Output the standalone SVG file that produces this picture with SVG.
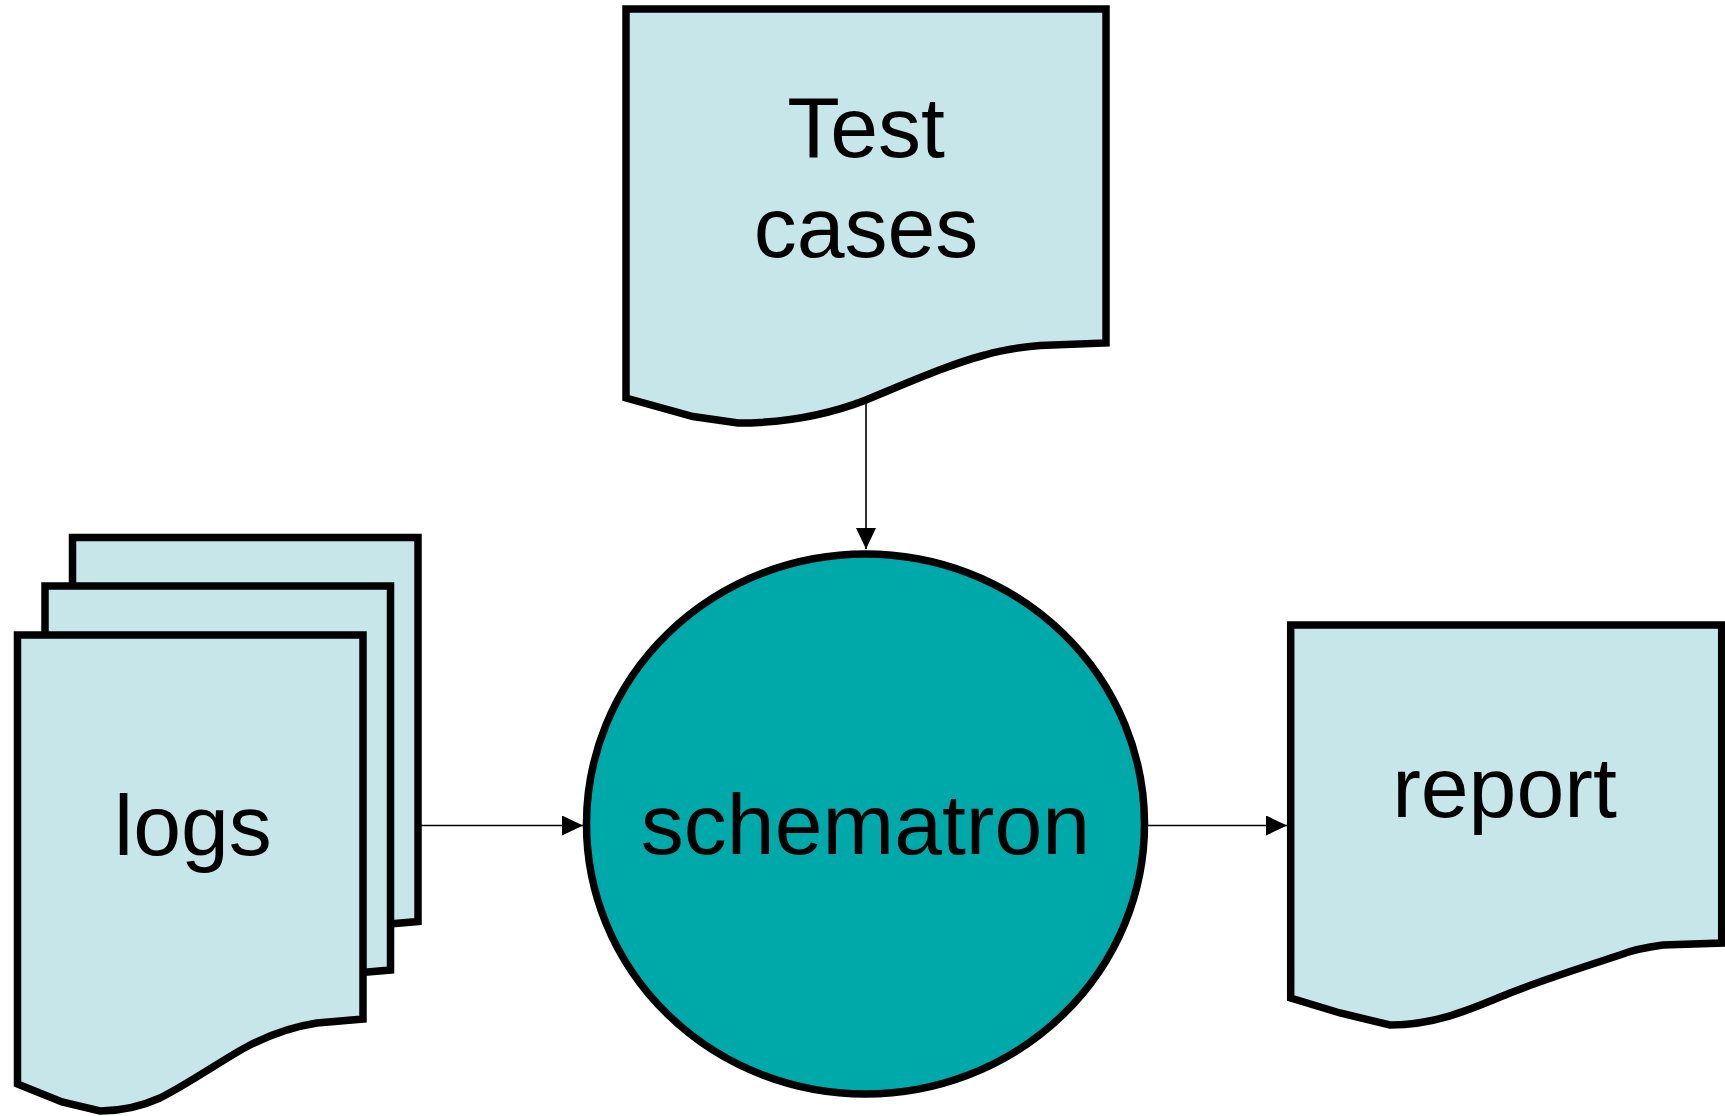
<svg xmlns="http://www.w3.org/2000/svg" xmlns:xlink="http://www.w3.org/1999/xlink" width="1725" height="1116" viewBox="0 0 1725 1116">
  <style>
    .doc { fill: #C6E6E9; stroke: #000; stroke-width: 7.5; stroke-linejoin: miter; }
    .proc { fill: #00A9A9; stroke: #000; stroke-width: 7.5; }
    .lbl { font-family: "Liberation Sans", Arial, sans-serif; font-size: 86px; fill: #000; text-anchor: middle; }
    .conn { stroke: #000; stroke-width: 1.6; fill: none; }
  </style>
  <defs>
    <marker id="arrow" markerUnits="userSpaceOnUse" markerWidth="22" markerHeight="22" refX="21" refY="10" orient="auto">
      <path d="M0,0 L21,10 L0,20 Z" fill="#000"/>
    </marker>
    <path id="logdoc" d="M17.5,635 H363 V1019 L317,1023 C290,1027 270,1035 250,1045 C225,1058 190,1083 160,1098 C140,1107 120,1111 100,1111 L62,1102 L17.5,1084 Z"/>
  </defs>

  <g id="connectors">
    <line class="conn" x1="866" y1="400" x2="866" y2="549" marker-end="url(#arrow)"/>
    <line class="conn" x1="421" y1="825.5" x2="583" y2="825.5" marker-end="url(#arrow)"/>
    <line class="conn" x1="1148" y1="825.5" x2="1287" y2="825.5" marker-end="url(#arrow)"/>
  </g>

  <g id="test-cases">
    <path class="doc" d="M626,9 H1106 V343 L1040,345.5 C1010,348 995,352 985,355 C950,364 905,384 866,400 C830,414 790,423 738,423 L693,416.5 L626,398 Z"/>
    <text class="lbl" x="866" y="156.5">Test</text>
    <text class="lbl" x="866" y="257">cases</text>
  </g>

  <g id="logs">
    <use xlink:href="#logdoc" class="doc" transform="translate(55,-97.5)"/>
    <use xlink:href="#logdoc" class="doc" transform="translate(27.5,-49)"/>
    <use xlink:href="#logdoc" class="doc"/>
    <text class="lbl" x="193" y="854.5">logs</text>
  </g>

  <g id="schematron">
    <ellipse class="proc" cx="865.5" cy="824" rx="279" ry="270"/>
    <text class="lbl" x="865.5" y="853.5">schematron</text>
  </g>

  <g id="report">
    <path class="doc" d="M1290.7,625 H1721.7 V943 L1663,945 C1640,948 1630,951 1620,955 C1590,965 1545,979 1510,993 C1480,1005 1440,1025 1390,1025 L1340,1013 L1290.7,998 Z"/>
    <text class="lbl" x="1504.5" y="816.5">report</text>
  </g>
</svg>
